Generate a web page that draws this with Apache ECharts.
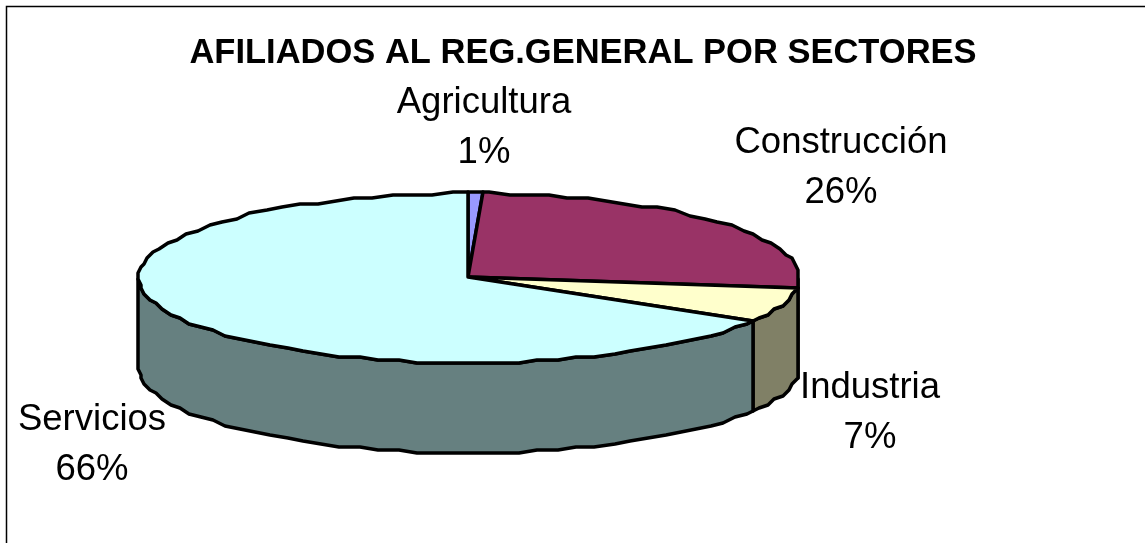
<!DOCTYPE html>
<html><head><meta charset="utf-8">
<style>html,body{margin:0;padding:0;background:#fff}#c{width:1145px;height:543px}</style>
<script src="https://cdn.jsdelivr.net/npm/echarts@6/dist/echarts.min.js"></script>
</head><body><div id="c"></div>
<script>
var categories = ['Agricultura','Construcción','Industria','Servicios'];
var values = [0.7, 26.2, 6.7, 66.4];
var percentLabels = ['1%','26%','7%','66%'];
var topColors = ['#9999FF','#993366','#FFFFCC','#CCFFFF'];
var wallColors = ['#666680','#4D1A33','#808066','#668080'];
var titleText = 'AFILIADOS AL REG.GENERAL POR SECTORES';

var layout = {cx:469, cy:278, rx:330, ry:85, depth:90, step:3.5, gridX:3, gridY:3};
var labelAt = {Agricultura:[484,128], 'Construcción':[841,168], Industria:[870,413], Servicios:[92,445]};

var total = values.reduce(function(a,b){return a+b;},0);
function angles(i){
  var s=0; for(var k=0;k<i;k++) s+=values[k];
  return [s/total*360,(s+values[i])/total*360];
}
function rim(t,dy){
  var r=t*Math.PI/180;
  var x=layout.cx+layout.rx*Math.sin(r), y=layout.cy-layout.ry*Math.cos(r);
  return [Math.round(x/layout.gridX)*layout.gridX, Math.round(y/layout.gridY)*layout.gridY+(dy||0)];
}
function arc(a,b,dy){
  var p=[], t=a;
  p.push(rim(a,dy));
  t=Math.ceil(a/layout.step)*layout.step; if(t===a)t+=layout.step;
  for(;t<b;t+=layout.step)p.push(rim(t,dy));
  p.push(rim(b,dy));
  return p;
}
var lineStyle={stroke:'#000',lineWidth:3.5,lineJoin:'round'};
function wallItem(params,api){
  var a=angles(params.dataIndex), s=Math.max(a[0],90), e=Math.min(a[1],270);
  if(e<=s) return null;
  var upper=arc(s,e,0), lower=arc(s,e,layout.depth).reverse();
  return {type:'polygon',shape:{points:upper.concat(lower)},
    style:Object.assign({fill:wallColors[params.dataIndex]},lineStyle)};
}
function topItem(params,api){
  var a=angles(params.dataIndex);
  var pts=[[layout.cx-1,layout.cy-1]].concat(arc(a[0],a[1],0));
  return {type:'polygon',shape:{points:pts},
    style:Object.assign({fill:topColors[params.dataIndex]},lineStyle)};
}
function labelItem(params,api){
  var n=categories[params.dataIndex], p=labelAt[n];
  return {type:'text',x:p[0],y:p[1],style:{
    text:n+'\n'+percentLabels[params.dataIndex],
    font:'36.5px "Liberation Sans", Arial, sans-serif',lineHeight:50,
    fill:'#000',align:'center',verticalAlign:'middle'}};
}
var chart=echarts.init(document.getElementById('c'),null,{renderer:'canvas'});
var d=values.map(function(v,i){return {name:categories[i],value:v};});
chart.setOption({
  animation:false,
  backgroundColor:'#fff',
  title:{text:titleText,left:578,top:31,textAlign:'center',
    textStyle:{fontFamily:'"Liberation Sans", Arial, sans-serif',fontWeight:'bold',fontSize:34.5,color:'#000'}},
  graphic:[{type:'rect',shape:{x:6.5,y:6.5,width:1300,height:700},style:{fill:'none',stroke:'#000',lineWidth:1.5},silent:true,z:-1}],
  series:[
    {type:'custom',coordinateSystem:'none',renderItem:wallItem,data:d,z:1,silent:true},
    {type:'custom',coordinateSystem:'none',renderItem:topItem,data:d,z:2,silent:true},
    {type:'custom',coordinateSystem:'none',renderItem:labelItem,data:d,z:3,silent:true}
  ]
});
</script></body></html>
